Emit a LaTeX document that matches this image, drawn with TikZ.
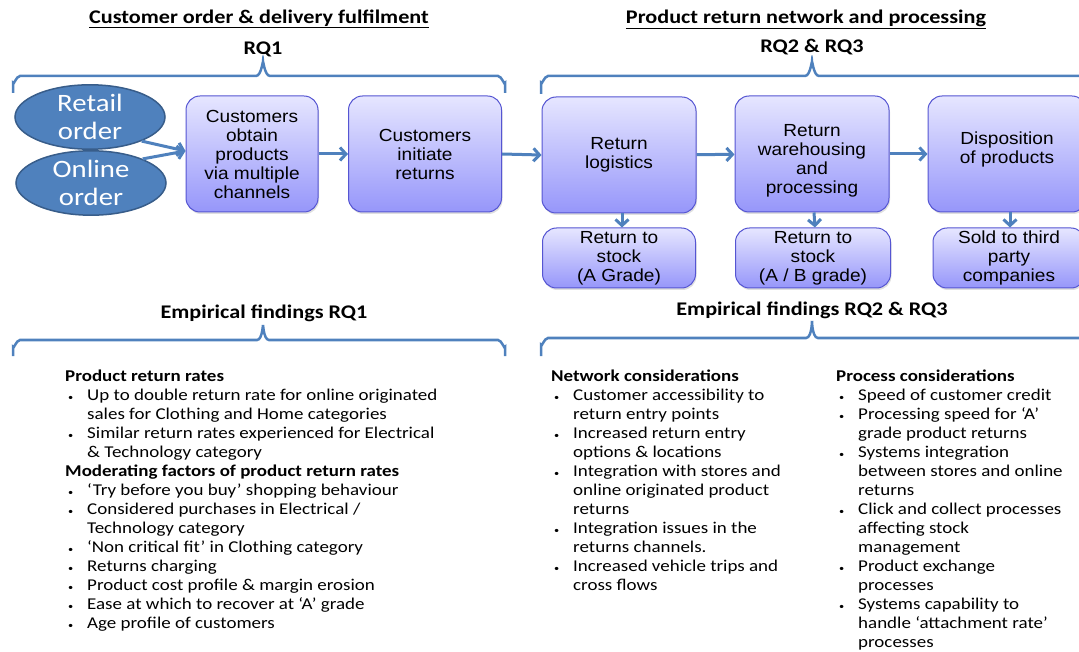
\documentclass[tikz,border=0pt]{standalone}
\usepackage{fontspec}
\setmainfont[FakeStretch=1.15]{Carlito}
\newfontfamily\boxfont[FakeStretch=1.09]{Liberation Sans}
\usetikzlibrary{arrows.meta}
\usetikzlibrary{positioning}
\usetikzlibrary{shapes.geometric}
\usetikzlibrary{shadows}
\definecolor{mblue}{RGB}{79,129,189}
\definecolor{eborder}{RGB}{56,93,138}
\definecolor{boxtop}{RGB}{230,230,255}
\definecolor{boxbot}{RGB}{150,150,250}
\definecolor{boxline}{RGB}{85,85,210}
\tikzset{
  order/.style = {ellipse, draw=eborder, line width=1.5pt, fill=mblue, text=white,
    minimum width=150pt, minimum height=62pt, inner sep=0pt, align=center,
    font=\fontsize{25}{28}\selectfont},
  stage/.style = {rounded corners=14pt, draw=boxline, line width=1pt, top color=boxtop,
    bottom color=boxbot, align=center, inner sep=0pt,
    drop shadow={opacity=0.25, shadow xshift=1pt, shadow yshift=-2pt},
    font=\boxfont\fontsize{17.5}{19}\selectfont},
  flow/.style = {mblue, line width=3pt, -{Straight Barb[length=6pt, width=13pt]}},
  brace/.style = {mblue, line width=2.5pt},
  findings/.style = {anchor=north west, align=left, inner sep=0pt,
    font=\fontsize{16.5}{19}\selectfont},
  heading/.style = {font=\bfseries\fontsize{19.3}{21}\selectfont}
}
\newcommand{\bul}{\hspace*{3pt}\makebox[19pt][l]{\small\textbullet}}
\newcommand{\cont}{\hspace*{22pt}}

\begin{document}
\begin{tikzpicture}[x=1pt, y=-1pt]
  \useasboundingbox (0,0) rectangle (1079,652);
  \clip (0,0) rectangle (1079,652);

  % titles
  \node [heading] (fulfil) at (259,19) {\underline{Customer order \& delivery fulfilment}};
  \node [heading] (rqone) at (263,49) {RQ1};
  \node [heading] (network) at (806,19) {\underline{Product return network and processing}};
  \node [heading] (rqtwo) at (812,47) {RQ2 \& RQ3};

  % braces
  \draw [brace] (13,93) -- (13,83) to[out=-90,in=180] (20,76) -- (256,76)
    to[out=0,in=90] (263,63) to[out=90,in=180] (270,76) -- (498,76)
    to[out=0,in=-90] (505,83) -- (505,93);
  \draw [brace] (541,94) -- (541,83) to[out=-90,in=180] (548,76) -- (805,76)
    to[out=0,in=90] (812,63) to[out=90,in=180] (819,76) -- (1090,76);

  % order flow
  \node [order] (online) at (91,183) {Online\\order};
  \node [order] (retail) at (90,117) {Retail\\order};
  \node [stage, minimum width=132pt, minimum height=116pt] (obtain) at (252,154)
    {Customers\\obtain\\products\\via multiple\\channels};
  \node [stage, minimum width=153pt, minimum height=116pt] (initiate) at (425,154)
    {Customers\\initiate\\returns};
  \node [stage, minimum width=154pt, minimum height=116pt] (logistics) at (619,155)
    {Return\\logistics};
  \node [stage, minimum width=154pt, minimum height=116pt] (warehousing) at (812,154)
    {\rule{0pt}{25pt}Return\\warehousing\\and\\processing};
  \node [stage, minimum width=158pt, minimum height=116pt] (disposition) at (1007,154)
    {Disposition\\of products\rule[-12pt]{0pt}{12pt}};
  \node [stage, minimum width=153pt, minimum height=60pt] (stocka) at (619,258)
    {Return to\\stock\\(A Grade)};
  \node [stage, minimum width=155pt, minimum height=60pt] (stockab) at (813,258)
    {Return to\\stock\\(A / B grade)};
  \node [stage, minimum width=152pt, minimum height=60pt] (thirdparty) at (1009,258)
    {Sold to third\\party\\companies};

  \draw [flow] (retail.-25) -- ([yshift=3pt]obtain.west);
  \draw [flow] (online.25) -- ([yshift=3pt]obtain.west);
  \draw [flow] (obtain) -- (initiate);
  \draw [flow] (initiate.east) -- (logistics.west);
  \draw [flow] (logistics) -- (warehousing);
  \draw [flow] (warehousing) -- (disposition);
  \draw [flow] ([xshift=3pt]logistics.south) -- ([xshift=3pt]stocka.north);
  \draw [flow] ([xshift=2pt]warehousing.south) -- ([xshift=2pt]stockab.north);
  \draw [flow] ([xshift=3pt]disposition.south) -- ([xshift=1pt]thirdparty.north);

  % findings
  \node [heading] (emprq1) at (264,313) {Empirical findings RQ1};
  \node [heading] (emprq23) at (812,310) {Empirical findings RQ2 \& RQ3};
  \draw [brace] (13,356) -- (13,347) to[out=-90,in=180] (20,340) -- (257,340)
    to[out=0,in=90] (263,326) to[out=90,in=180] (269,340) -- (498,340)
    to[out=0,in=-90] (505,347) -- (505,356);
  \draw [brace] (541,356) -- (541,345) to[out=-90,in=180] (548,338) -- (806,338)
    to[out=0,in=90] (812,322) to[out=90,in=180] (818,338) -- (1090,338);

  \node [findings] (rates) at (65,370) {\textbf{Product return rates}\\
    \bul Up to double return rate for online originated\\
    \cont sales for Clothing and Home categories\\
    \bul Similar return rates experienced for Electrical\\
    \cont \& Technology category\\
    \textbf{Moderating factors of product return rates}\\
    \bul ‘Try before you buy’ shopping behaviour\\
    \bul Considered purchases in Electrical /\\
    \cont Technology category\\
    \bul ‘Non critical fit’ in Clothing category\\
    \bul Returns charging\\
    \bul Product cost profile \& margin erosion\\
    \bul Ease at which to recover at ‘A’ grade\\
    \bul Age profile of customers};
  \node [findings] (netcons) at (551,370) {\textbf{Network considerations}\\
    \bul Customer accessibility to\\
    \cont return entry points\\
    \bul Increased return entry\\
    \cont options \& locations\\
    \bul Integration with stores and\\
    \cont online originated product\\
    \cont returns\\
    \bul Integration issues in the\\
    \cont returns channels.\\
    \bul Increased vehicle trips and\\
    \cont cross flows};
  \node [findings] (proccons) at (836,370) {\textbf{Process considerations}\\
    \bul Speed of customer credit\\
    \bul Processing speed for ‘A’\\
    \cont grade product returns\\
    \bul Systems integration\\
    \cont between stores and online\\
    \cont returns\\
    \bul Click and collect processes\\
    \cont affecting stock\\
    \cont management\\
    \bul Product exchange\\
    \cont processes\\
    \bul Systems capability to\\
    \cont handle ‘attachment rate’\\
    \cont processes};
\end{tikzpicture}
\end{document}
